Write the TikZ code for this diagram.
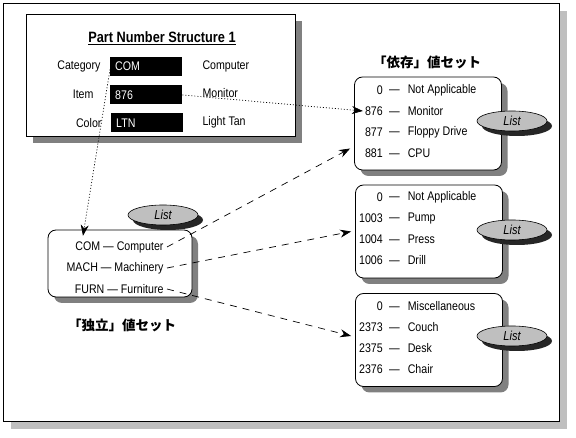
\documentclass[tikz,border=0pt]{standalone}
\usepackage{fontspec}
\setmainfont{Liberation Sans}[FakeStretch=0.85]
\newfontfamily\cjk{Noto Sans CJK JP}
\usetikzlibrary{shapes.geometric,shadows,arrows.meta,calc}

\tikzset{
	every node/.style={font=\fontsize{12.5}{14}\selectfont},
	codebox/.style={fill=black, text=white, anchor=west, minimum height=19pt, text width=62pt, inner xsep=5pt, inner ysep=0pt},
	valset/.style={draw, line width=0.8pt, fill=white, rounded corners=8pt, minimum width=147pt, minimum height=93pt,
		drop shadow={shadow xshift=6pt, shadow yshift=-6pt, fill=gray, opacity=1}},
	listtag/.style={ellipse, draw, line width=0.6pt, fill=lightgray, minimum width=70pt, minimum height=20pt, inner sep=0pt,
		font=\fontsize{13}{14}\selectfont\itshape,
		drop shadow={shadow xshift=5pt, shadow yshift=-5pt, fill=black!85, opacity=1}},
	settitle/.style={font=\fontsize{13.5}{15}\selectfont\cjk\bfseries},
	link/.style={line width=0.7pt, dash pattern=on 7pt off 6pt, -{Stealth[length=11pt,width=8pt]}},
	pointer/.style={line width=0.7pt, dash pattern=on 1pt off 2pt, -{Stealth[length=11pt,width=8pt]}}
}

\begin{document}
\begin{tikzpicture}[x=1pt, y=-1pt]
	\useasboundingbox (0,0) rectangle (576,438);

	% frame
	\fill[lightgray] (11,11) rectangle (567,429);
	\draw[line width=0.8pt, fill=white] (3,3) rectangle (559,421);

	% part number structure
	\node[draw, line width=0.8pt, fill=white, minimum width=269pt, minimum height=122pt,
		drop shadow={shadow xshift=7pt, shadow yshift=-7pt, fill=gray, opacity=1}] (pns) at (160.5,75) {};
	\node[font=\fontsize{15}{17}\selectfont\bfseries] (pns-title) at (162,38) {\underline{Part Number Structure 1}};

	\node[anchor=east] (lbl-cat) at (104,66) {Category};
	\node[anchor=east] (lbl-item) at (97,94) {Item};
	\node[anchor=east] (lbl-col) at (105,123) {Color};

	\node[codebox] (code-cat) at (110,66.5) {COM};
	\node[codebox] (code-item) at (110,95) {876};
	\node[codebox] (code-col) at (111,123) {LTN};

	\node[anchor=west] (txt-cat) at (199,66) {Computer};
	\node[anchor=west] (txt-item) at (199,93) {Monitor};
	\node[anchor=west] (txt-col) at (199,122) {Light Tan};

	% dependent value sets
	\node[valset] (dep) at (428,123.5) {};
	\node[valset] (pmp) at (429,231.5) {};
	\node[valset] (frn) at (429,340) {};
	\node[settitle] (dep-title) at (427,62) {「依存」値セット};

	\foreach \num/\name [count=\i] in {0/Not Applicable, 876/Monitor, 877/Floppy Drive, 881/CPU}{
		\node[anchor=east, inner sep=0pt] (dep-n-\i) at (383,69+21*\i) {\num};
		\node[anchor=west, inner sep=0pt] (dep-t-\i) at (389,69+21*\i) {—\hspace{8pt}\name};
	}
	\foreach \num/\name [count=\i] in {0/Not Applicable, 1003/Pump, 1004/Press, 1006/Drill}{
		\node[anchor=east, inner sep=0pt] (pmp-n-\i) at (383,176+21*\i) {\num};
		\node[anchor=west, inner sep=0pt] (pmp-t-\i) at (389,176+21*\i) {—\hspace{8pt}\name};
	}
	\foreach \num/\name [count=\i] in {0/Miscellaneous, 2373/Couch, 2375/Desk, 2376/Chair}{
		\node[anchor=east, inner sep=0pt] (frn-n-\i) at (383,285+21*\i) {\num};
		\node[anchor=west, inner sep=0pt] (frn-t-\i) at (389,285+21*\i) {—\hspace{8pt}\name};
	}

	% independent value set
	\node[valset, minimum width=144pt, minimum height=67pt] (ind) at (120,263.5) {};
	\foreach \txt [count=\i] in {COM — Computer, MACH — Machinery, FURN — Furniture}{
		\node[anchor=east] (ind-\i) at (167,226+21*\i) {\txt};
	}
	\node[settitle] (ind-title) at (122,325) {「独立」値セット};

	\node[listtag] (dep-list) at (512,121) {List};
	\node[listtag] (pmp-list) at (512,230) {List};
	\node[listtag] (frn-list) at (512,336) {List};
	\node[listtag] (ind-list) at (163,215) {List};

	% connectors
	\draw[pointer] (code-item.east) -- ($(dep-n-2.west)+(-2,0)$);
	\draw[pointer] ($(code-cat.west)+(0,3)$) -- ($(ind-1.north west)+(11,-2)$);
	\draw[link] (ind-1.east) -- ($(dep.west)+(-4,25)$);
	\draw[link] (ind-2.east) -- ($(pmp.west)+(-4,0)$);
	\draw[link] (ind-3.east) -- ($(frn.west)+(-4,-4)$);
\end{tikzpicture}
\end{document}
